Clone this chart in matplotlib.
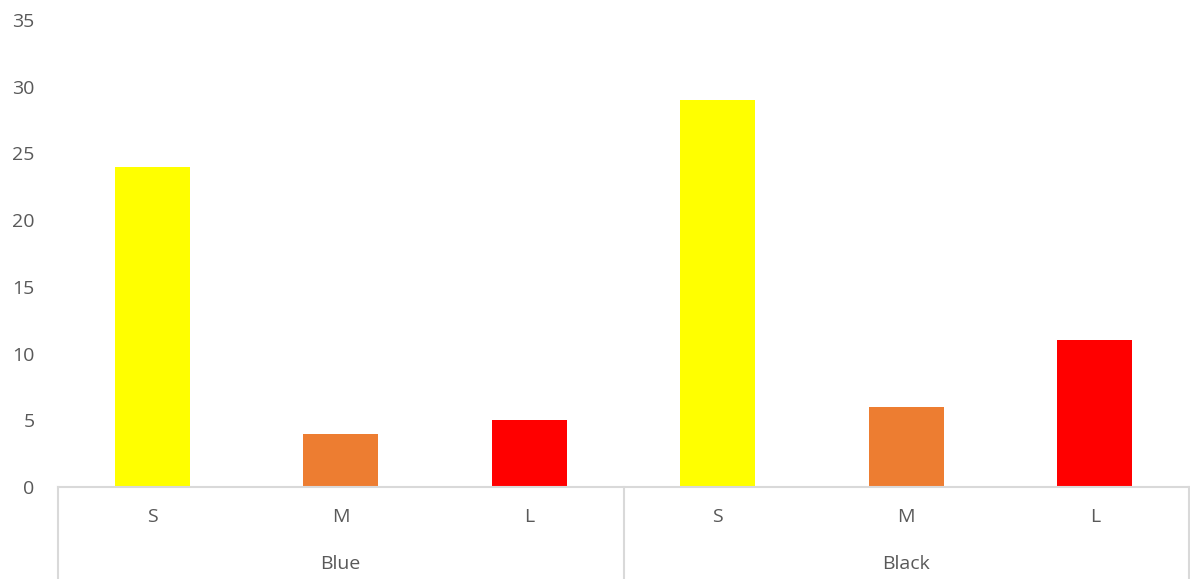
import numpy as np
import matplotlib.pyplot as plt
import matplotlib.transforms as mtransforms

groups = ['Blue', 'Black']
sizes = ['S', 'M', 'L']
values = [24, 4, 5, 29, 6, 11]
bar_colors = ['#FFFF00', '#ED7D31', '#FF0000', '#FFFF00', '#ED7D31', '#FF0000']
yticks = [0, 5, 10, 15, 20, 25, 30, 35]

plt.rcParams['font.family'] = ['Open Sans', 'DejaVu Sans']
text_col = '#595959'
line_col = '#D9D9D9'

fig = plt.figure(figsize=(11.9, 5.79), dpi=100)
ax = fig.add_axes([58/1190, 92/579, 1131/1190, 467/579])

x = np.arange(len(values))
ax.bar(x, values, width=0.40, color=bar_colors, zorder=2)
ax.set_xlim(-0.5, len(values) - 0.5)
ax.set_ylim(0, 35)
ax.set_yticks(yticks)
ax.set_yticklabels([str(t) for t in yticks], fontsize=14, color=text_col)
ax.tick_params(axis='y', length=0, pad=17)
ax.set_xticks([])
for s in ['top', 'right', 'left']:
    ax.spines[s].set_visible(False)
ax.spines['bottom'].set_color(line_col)
ax.spines['bottom'].set_linewidth(1.5)

# two-level category axis
trans = mtransforms.blended_transform_factory(ax.transData, ax.transAxes)
labels = sizes * len(groups)
for i, lab in enumerate(labels):
    ax.text(i, -30/467, lab, transform=trans, ha='center', va='center',
            fontsize=14, color=text_col)
for g, name in enumerate(groups):
    ax.text(g * 3 + 1, -77/467, name, transform=trans, ha='center', va='center',
            fontsize=14, color=text_col)
for xb in [-0.5, 2.5, 5.5]:
    ax.plot([xb, xb], [0, -92/467], transform=trans, color=line_col,
            lw=1.5, clip_on=False)

fig.savefig('out.png', dpi=100)
plt.close()
